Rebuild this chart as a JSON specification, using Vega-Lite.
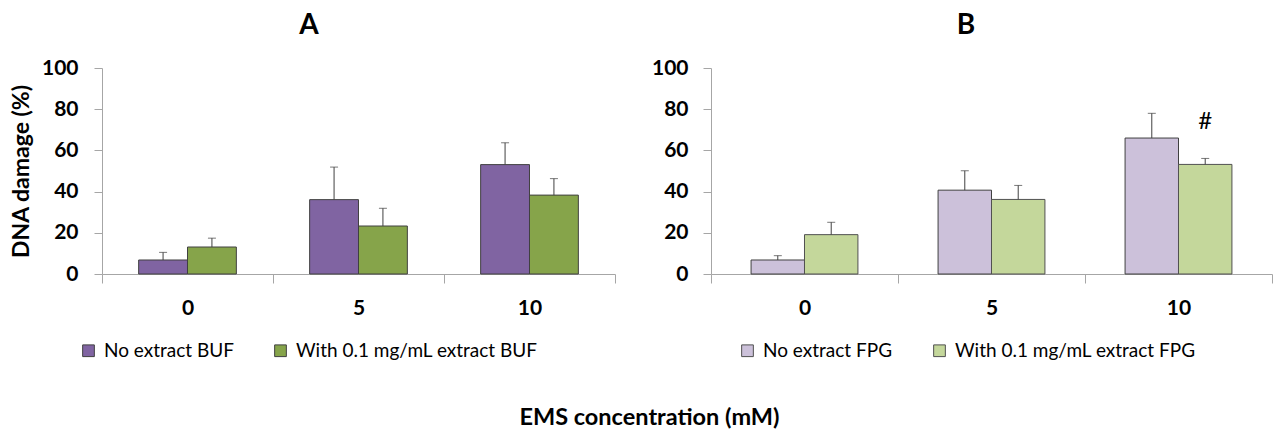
{
  "$schema": "https://vega.github.io/schema/vega-lite/v6.json",
  "padding": {"left": 10, "top": 12, "right": 5, "bottom": 5},
  "background": "white",
  "config": {
    "font": "Lato",
    "view": {"stroke": null},
    "axis": {"grid": false, "domainColor": "#a6a6a6", "tickColor": "#a6a6a6", "labelColor": "#000", "labelFont": "Lato", "labelFontWeight": "bold", "labelFontSize": 21, "titleFont": "Lato", "titleFontWeight": "bold", "titleFontSize": 23, "titleColor": "#000"},
    "title": {"font": "Lato", "fontWeight": "bold", "color": "#000"},
    "legend": {"labelFont": "Lato", "labelFontSize": 19, "labelColor": "#000", "labelLimit": 400}
  },
  "datasets": {
    "A": [
      {"ems": "0", "group": "No extract BUF", "value": 6.8, "upper": 10.5},
      {"ems": "0", "group": "With 0.1 mg/mL extract BUF", "value": 13.1, "upper": 17.4},
      {"ems": "5", "group": "No extract BUF", "value": 36.1, "upper": 51.9},
      {"ems": "5", "group": "With 0.1 mg/mL extract BUF", "value": 23.3, "upper": 31.9},
      {"ems": "10", "group": "No extract BUF", "value": 53.1, "upper": 63.7},
      {"ems": "10", "group": "With 0.1 mg/mL extract BUF", "value": 38.3, "upper": 46.3}
    ],
    "B": [
      {"ems": "0", "group": "No extract FPG", "value": 6.8, "upper": 8.9},
      {"ems": "0", "group": "With 0.1 mg/mL extract FPG", "value": 19.1, "upper": 25.1},
      {"ems": "5", "group": "No extract FPG", "value": 40.7, "upper": 50.1},
      {"ems": "5", "group": "With 0.1 mg/mL extract FPG", "value": 36.2, "upper": 43.0},
      {"ems": "10", "group": "No extract FPG", "value": 66.0, "upper": 78.0},
      {"ems": "10", "group": "With 0.1 mg/mL extract FPG", "value": 53.2, "upper": 56.1, "sig": "#"}
    ]
  },
  "title": {"text": "EMS concentration (mM)", "orient": "bottom", "anchor": "middle", "fontSize": 23.5, "offset": 45, "dx": 8},
  "spacing": 35,
  "resolve": {"scale": {"color": "independent"}, "legend": {"color": "independent"}},
  "hconcat": [
    {
      "width": 513,
      "height": 206,
      "title": {"text": "A", "fontSize": 28, "offset": 17, "frame": "bounds", "anchor": "middle", "dx": -4},
      "data": {"name": "A"},
      "encoding": {
        "x": {"field": "ems", "type": "nominal", "sort": ["0", "5", "10"], "scale": {"paddingInner": 0, "paddingOuter": 0},
          "axis": {"title": null, "labelAngle": 0, "tickBand": "extent", "tickSize": 9, "labelPadding": 14}},
        "y": {"field": "value", "type": "quantitative", "scale": {"domain": [0, 100], "nice": false},
          "axis": {"title": "DNA damage (%)", "values": [0, 20, 40, 60, 80, 100], "tickSize": 8, "labelPadding": 16, "titlePadding": 8}}
      },
      "layer": [
        {
          "transform": [{"filter": "datum.group == 'No extract BUF'"}],
          "layer": [
            {
              "mark": {"type": "bar", "stroke": "#404040", "strokeWidth": 1, "width": {"band": 0.2857}, "xOffset": -24.43},
              "encoding": {
                "color": {"field": "group", "type": "nominal",
                  "scale": {"domain": ["No extract BUF", "With 0.1 mg/mL extract BUF"], "range": ["#8064A2", "#86A44A"]},
                  "legend": {"orient": "none", "legendX": -23, "legendY": 273, "direction": "horizontal", "title": null, "symbolType": "square", "symbolSize": 137, "symbolStrokeColor": "#404040", "symbolStrokeWidth": 1, "symbolOpacity": 1, "columnPadding": 37, "labelOffset": 6}}
              }
            },
            {
              "mark": {"type": "rule", "color": "#404040", "strokeWidth": 1, "xOffset": -24.43},
              "encoding": {"y2": {"field": "upper"}}
            },
            {
              "mark": {"type": "tick", "orient": "horizontal", "size": 8, "thickness": 1, "color": "#404040", "xOffset": -24.43},
              "encoding": {"y": {"field": "upper", "type": "quantitative"}}
            }
          ]
        },
        {
          "transform": [{"filter": "datum.group == 'With 0.1 mg/mL extract BUF'"}],
          "layer": [
            {
              "mark": {"type": "bar", "stroke": "#404040", "strokeWidth": 1, "width": {"band": 0.2857}, "xOffset": 24.43},
              "encoding": {
                "color": {"field": "group", "type": "nominal",
                  "scale": {"domain": ["No extract BUF", "With 0.1 mg/mL extract BUF"], "range": ["#8064A2", "#86A44A"]}}
              }
            },
            {
              "mark": {"type": "rule", "color": "#404040", "strokeWidth": 1, "xOffset": 24.43},
              "encoding": {"y2": {"field": "upper"}}
            },
            {
              "mark": {"type": "tick", "orient": "horizontal", "size": 8, "thickness": 1, "color": "#404040", "xOffset": 24.43},
              "encoding": {"y": {"field": "upper", "type": "quantitative"}}
            }
          ]
        }
      ]
    },
    {
      "width": 561,
      "height": 206,
      "title": {"text": "B", "fontSize": 28, "offset": 17, "frame": "bounds", "anchor": "middle", "dx": 4},
      "data": {"name": "B"},
      "encoding": {
        "x": {"field": "ems", "type": "nominal", "sort": ["0", "5", "10"], "scale": {"paddingInner": 0, "paddingOuter": 0},
          "axis": {"title": null, "labelAngle": 0, "tickBand": "extent", "tickSize": 9, "labelPadding": 14}},
        "y": {"field": "value", "type": "quantitative", "scale": {"domain": [0, 100], "nice": false},
          "axis": {"title": null, "values": [0, 20, 40, 60, 80, 100], "tickSize": 8, "labelPadding": 15}}
      },
      "layer": [
        {
          "transform": [{"filter": "datum.group == 'No extract FPG'"}],
          "layer": [
            {
              "mark": {"type": "bar", "stroke": "#404040", "strokeWidth": 1, "width": {"band": 0.2857}, "xOffset": -26.71},
              "encoding": {
                "color": {"field": "group", "type": "nominal",
                  "scale": {"domain": ["No extract FPG", "With 0.1 mg/mL extract FPG"], "range": ["#CCC1DA", "#C4D79B"]},
                  "legend": {"orient": "none", "legendX": 27, "legendY": 273, "direction": "horizontal", "title": null, "symbolType": "square", "symbolSize": 137, "symbolStrokeColor": "#404040", "symbolStrokeWidth": 1, "symbolOpacity": 1, "columnPadding": 37, "labelOffset": 6}}
              }
            },
            {
              "mark": {"type": "rule", "color": "#404040", "strokeWidth": 1, "xOffset": -26.71},
              "encoding": {"y2": {"field": "upper"}}
            },
            {
              "mark": {"type": "tick", "orient": "horizontal", "size": 8, "thickness": 1, "color": "#404040", "xOffset": -26.71},
              "encoding": {"y": {"field": "upper", "type": "quantitative"}}
            }
          ]
        },
        {
          "transform": [{"filter": "datum.group == 'With 0.1 mg/mL extract FPG'"}],
          "layer": [
            {
              "mark": {"type": "bar", "stroke": "#505050", "strokeWidth": 1, "width": {"band": 0.2857}, "xOffset": 26.71},
              "encoding": {
                "color": {"field": "group", "type": "nominal",
                  "scale": {"domain": ["No extract FPG", "With 0.1 mg/mL extract FPG"], "range": ["#CCC1DA", "#C4D79B"]}}
              }
            },
            {
              "mark": {"type": "rule", "color": "#404040", "strokeWidth": 1, "xOffset": 26.71},
              "encoding": {"y2": {"field": "upper"}}
            },
            {
              "mark": {"type": "tick", "orient": "horizontal", "size": 8, "thickness": 1, "color": "#404040", "xOffset": 26.71},
              "encoding": {"y": {"field": "upper", "type": "quantitative"}}
            },
            {
              "transform": [{"filter": "datum.sig != null"}],
              "mark": {"type": "text", "font": "Lato", "fontSize": 24, "color": "#000", "dy": -36, "baseline": "middle", "xOffset": 26.71},
              "encoding": {"y": {"field": "upper", "type": "quantitative"}, "text": {"field": "sig"}}
            }
          ]
        }
      ]
    }
  ]
}
